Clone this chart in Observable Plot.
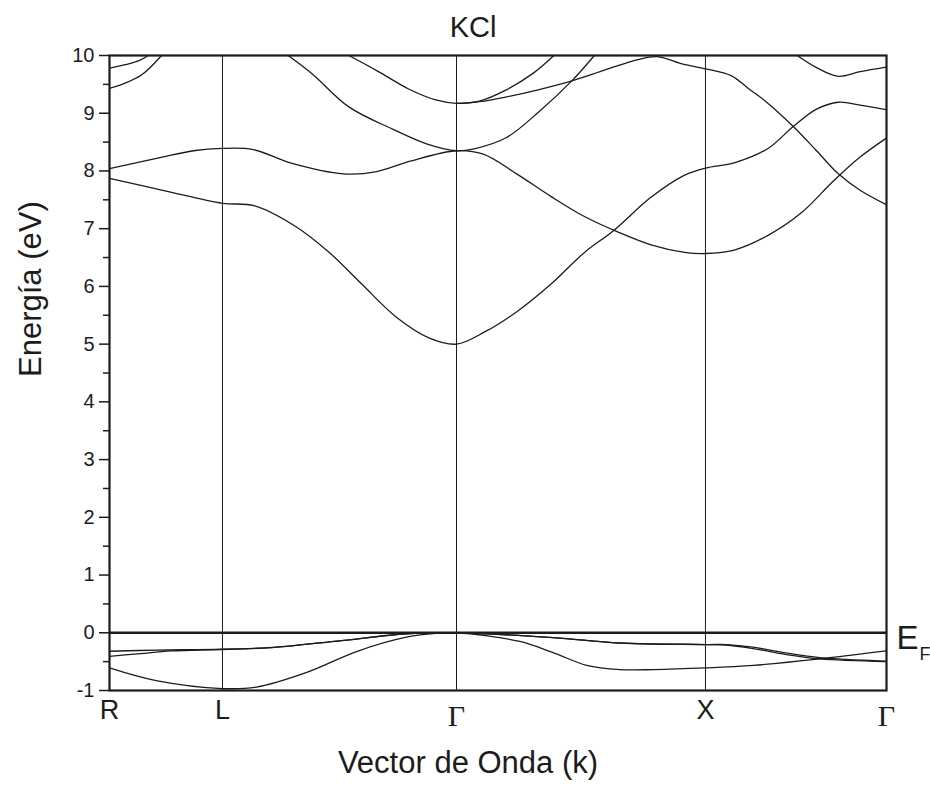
<!DOCTYPE html>
<html>
<head>
<meta charset="utf-8">
<script src="https://cdn.jsdelivr.net/npm/d3@7"></script>
<script src="https://cdn.jsdelivr.net/npm/@observablehq/plot@0.6"></script>
<style>
  html, body { margin: 0; padding: 0; background: #fff; }
  #chart { width: 930px; height: 789px; }
</style>
</head>
<body>
<div id="chart"></div>
<script>
// ---- Data ----
const title = "KCl";
const xLabel = "Vector de Onda (k)";
const yLabel = "Energía (eV)";
const kPos = [0, 0.1454, 0.4466, 0.767, 1];
const kNames = ["R", "L", "Γ", "X", "Γ"];
const yMajor = [-1, 0, 1, 2, 3, 4, 5, 6, 7, 8, 9, 10];
const yMinor = [-0.5, 0.5, 1.5, 2.5, 3.5, 4.5, 5.5, 6.5, 7.5, 8.5, 9.5];

// conduction bands: [k, E]
const c1 = [[0,7.87],[0.07,7.66],[0.1454,7.44],[0.186,7.40],[0.237,7.06],[0.281,6.61],[0.324,6.05],[0.368,5.48],[0.411,5.11],[0.4466,5.0],[0.484,5.22],[0.526,5.58],[0.569,6.05],[0.611,6.585],[0.649,6.97],[0.696,7.535],[0.739,7.92],[0.767,8.05],[0.804,8.14],[0.847,8.385],[0.88,8.77],[0.91,9.07],[0.938,9.19],[0.966,9.14],[1,9.06]];
const c2 = [[0,8.04],[0.065,8.23],[0.108,8.35],[0.1454,8.39],[0.185,8.37],[0.235,8.13],[0.301,7.95],[0.344,7.99],[0.387,8.17],[0.4466,8.35],[0.481,8.29],[0.524,7.95],[0.568,7.56],[0.61,7.22],[0.654,6.945],[0.697,6.72],[0.74,6.59],[0.767,6.57],[0.804,6.63],[0.847,6.88],[0.89,7.27],[0.932,7.83],[0.966,8.24],[1,8.57]];
const c3 = [[0.23,10.0],[0.261,9.68],[0.308,9.11],[0.365,8.72],[0.408,8.47],[0.4466,8.35],[0.468,8.38],[0.511,8.58],[0.553,9.03],[0.595,9.56],[0.624,10.0]];
const c4 = [[0.308,10.0],[0.345,9.73],[0.385,9.42],[0.42,9.23],[0.4466,9.17],[0.476,9.2],[0.51,9.28],[0.553,9.41],[0.595,9.56],[0.638,9.75],[0.68,9.93],[0.705,9.98],[0.738,9.85],[0.767,9.77],[0.80,9.65],[0.823,9.42],[0.845,9.2],[0.88,8.77],[0.91,8.35],[0.938,7.95],[0.966,7.665],[1,7.415]];
const c5 = [[0.4466,9.17],[0.476,9.21],[0.51,9.40],[0.545,9.69],[0.572,10.0]];
const c6 = [[0,9.78],[0.02,9.84],[0.038,9.91],[0.05,10.0]];
const c7 = [[0,9.43],[0.02,9.52],[0.042,9.67],[0.067,10.0]];
const c8 = [[0.885,10.0],[0.91,9.79],[0.938,9.64],[0.966,9.72],[1,9.80]];
// valence bands
const v1a = [[0,-0.32],[0.06,-0.30],[0.1454,-0.285],[0.21,-0.254],[0.296,-0.139],[0.382,-0.017],[0.4466,0],[0.571,-0.083],[0.656,-0.175],[0.767,-0.204],[0.794,-0.212],[0.828,-0.273],[0.871,-0.378],[0.914,-0.453],[1,-0.50]];
const v1b = [[0,-0.41],[0.04,-0.36],[0.08,-0.315],[0.1454,-0.29],[0.21,-0.256],[0.296,-0.141],[0.382,-0.018],[0.4466,0],[0.571,-0.085],[0.656,-0.177],[0.767,-0.204],[0.794,-0.205],[0.828,-0.25],[0.871,-0.35],[0.914,-0.43],[1,-0.49]];
const v2 = [[0,-0.61],[0.06,-0.83],[0.1454,-0.967],[0.189,-0.94],[0.253,-0.69],[0.318,-0.325],[0.382,-0.077],[0.416,-0.016],[0.4466,0],[0.528,-0.151],[0.571,-0.344],[0.614,-0.563],[0.657,-0.637],[0.70,-0.638],[0.767,-0.609],[0.829,-0.564],[0.914,-0.453],[1,-0.314]];

const bands = {c1, c2, c3, c4, c5, c6, c7, c8, v1a, v1b, v2};
const rows = Object.entries(bands).flatMap(([band, pts]) => pts.map(([k, e]) => ({band, k, e})));

const latinIdx = [0, 1, 3];
const gammaIdx = [2, 4];
const ink = "#1c1c1c";

const chart = Plot.plot({
  width: 930,
  height: 789,
  marginLeft: 109,
  marginRight: 44,
  marginTop: 55,
  marginBottom: 99,
  x: {domain: [0, 1], axis: null},
  y: {domain: [-1, 10], axis: null},
  style: {fontFamily: "'Liberation Sans', Arial, sans-serif", color: ink, background: "white", overflow: "visible"},
  marks: [
    Plot.ruleX(kPos.slice(1, 4), {stroke: ink, strokeWidth: 1}),
    Plot.line(rows, {x: "k", y: "e", z: "band", curve: "catmull-rom", stroke: ink, strokeWidth: 1.3, clip: true}),
    Plot.ruleY([0], {stroke: ink, strokeWidth: 2.5}),
    Plot.frame({stroke: ink, strokeWidth: 2.2}),
    Plot.axisY({ticks: yMajor, tickSize: 10, tickPadding: 5, fontSize: 20, strokeWidth: 1.5, label: null, tickFormat: d => `${d}`}),
    Plot.axisY({ticks: yMinor, tickSize: 6, strokeWidth: 1.5, label: null, tickFormat: () => ""}),
    Plot.text(latinIdx, {x: i => kPos[i], text: i => kNames[i], frameAnchor: "bottom", dy: 28, fontSize: 27, fill: ink}),
    Plot.text(gammaIdx, {x: i => kPos[i], text: i => kNames[i], frameAnchor: "bottom", dy: 35, fontSize: 30, fontFamily: "'Liberation Serif', 'Times New Roman', serif", fill: ink}),
    Plot.text([xLabel], {frameAnchor: "bottom", dx: -30, dy: 82, fontSize: 31, fill: ink}),
    Plot.text([yLabel], {frameAnchor: "left", rotate: -90, dx: -78, dy: 4, fontSize: 31, fill: ink}),
    Plot.text([title], {frameAnchor: "top", dx: -25, dy: -39, fontSize: 29, fill: ink}),
    Plot.text(["E"], {x: [1], y: [0], dx: 10, dy: 6, textAnchor: "start", fontSize: 33, fill: ink}),
    Plot.text(["F"], {x: [1], y: [0], dx: 33, dy: 21, textAnchor: "start", fontSize: 18, fill: ink})
  ]
});
document.getElementById("chart").appendChild(chart);
</script>
</body>
</html>
